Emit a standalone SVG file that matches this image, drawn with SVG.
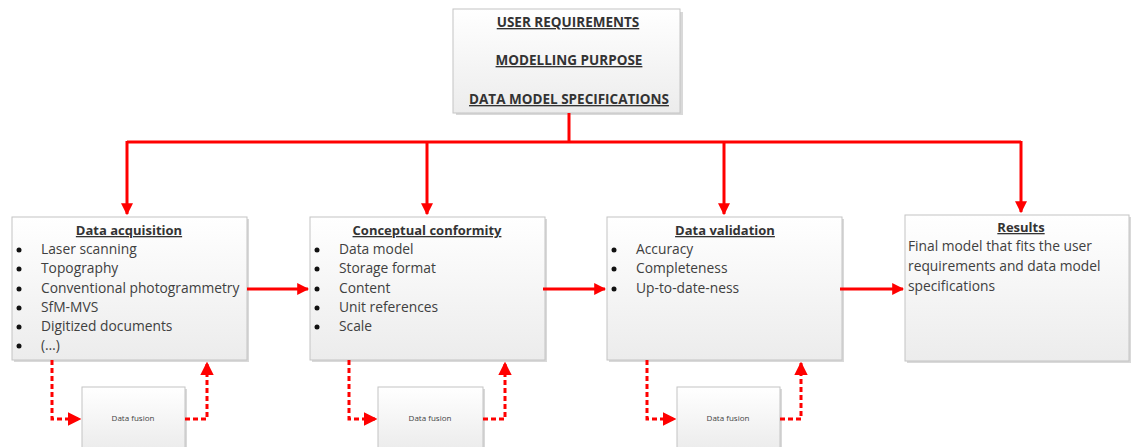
<svg xmlns="http://www.w3.org/2000/svg" width="1131" height="447" viewBox="0 0 1131 447">
<defs>
<linearGradient id="g" x1="0" y1="0" x2="0" y2="1"><stop offset="0" stop-color="#ffffff"/><stop offset="1" stop-color="#ececec"/></linearGradient>
<marker id="ah" viewBox="0 0 10 10" refX="9" refY="5" markerWidth="4" markerHeight="4" orient="auto" markerUnits="strokeWidth"><path d="M0,0 L10,5 L0,10 z" fill="#ff0000"/></marker>
<marker id="ahd" viewBox="0 0 10 10" refX="9" refY="5" markerWidth="4.5" markerHeight="4.5" orient="auto" markerUnits="strokeWidth"><path d="M0,0 L10,5 L0,10 z" fill="#ff0000"/></marker>
</defs>
<style>
.box{fill:url(#g);stroke:#c4c4c4;stroke-width:1}
.sh{fill:#d9d9d9}
.t{font-family:"Open Sans","Liberation Sans",sans-serif;font-size:13.8px;fill:#404040}
.h{font-family:"Open Sans","Liberation Sans",sans-serif;font-size:13px;font-weight:bold;fill:#333;text-decoration:underline;text-anchor:middle}
.top{font-family:"Open Sans","Liberation Sans",sans-serif;font-size:13.5px;font-weight:bold;fill:#333;text-decoration:underline;text-anchor:middle}
.b{fill:#111}
.fs{font-family:"Open Sans","Liberation Sans",sans-serif;font-size:8px;fill:#444;text-anchor:middle}
.r{fill:none;stroke:#ff0000;stroke-width:3}
.rd{fill:none;stroke:#ff0000;stroke-width:3;stroke-dasharray:5,3}
</style>
<rect width="1131" height="447" fill="#ffffff"/>

<g id="top">
<rect class="sh" x="456" y="12" width="227" height="103"/>
<rect class="box" x="453" y="9" width="227" height="104"/>
<text class="top" x="568" y="27">USER REQUIREMENTS</text>
<text class="top" x="569" y="65">MODELLING PURPOSE</text>
<text class="top" x="569" y="104">DATA MODEL SPECIFICATIONS</text>
</g>

<g id="acq">
<rect class="sh" x="14" y="219" width="235" height="143"/>
<rect class="box" x="12" y="217" width="235" height="143"/>
<text class="h" x="129" y="235">Data acquisition</text>
<g class="b"><circle cx="19" cy="250" r="2.5"/><circle cx="19" cy="269" r="2.5"/><circle cx="19" cy="289" r="2.5"/><circle cx="19" cy="308" r="2.5"/><circle cx="19" cy="327" r="2.5"/><circle cx="19" cy="346" r="2.5"/></g>
<text class="t" x="41" y="254">Laser scanning</text>
<text class="t" x="41" y="273">Topography</text>
<text class="t" x="41" y="293">Conventional photogrammetry</text>
<text class="t" x="41" y="312">SfM-MVS</text>
<text class="t" x="41" y="331">Digitized documents</text>
<text class="t" x="41" y="350">(…)</text>
</g>

<g id="conf">
<rect class="sh" x="312" y="219" width="235" height="143"/>
<rect class="box" x="310" y="217" width="235" height="143"/>
<text class="h" x="427" y="235">Conceptual conformity</text>
<g class="b"><circle cx="317" cy="250" r="2.5"/><circle cx="317" cy="269" r="2.5"/><circle cx="317" cy="289" r="2.5"/><circle cx="317" cy="308" r="2.5"/><circle cx="317" cy="327" r="2.5"/></g>
<text class="t" x="339" y="254">Data model</text>
<text class="t" x="339" y="273">Storage format</text>
<text class="t" x="339" y="293">Content</text>
<text class="t" x="339" y="312">Unit references</text>
<text class="t" x="339" y="331">Scale</text>
</g>

<g id="val">
<rect class="sh" x="609" y="219" width="235" height="143"/>
<rect class="box" x="607" y="217" width="235" height="143"/>
<text class="h" x="725" y="235">Data validation</text>
<g class="b"><circle cx="614" cy="250" r="2.5"/><circle cx="614" cy="269" r="2.5"/><circle cx="614" cy="289" r="2.5"/></g>
<text class="t" x="636" y="254">Accuracy</text>
<text class="t" x="636" y="273">Completeness</text>
<text class="t" x="636" y="293">Up-to-date-ness</text>
</g>

<g id="res">
<rect class="sh" x="907" y="217" width="224" height="146"/>
<rect class="box" x="905" y="215" width="224" height="146"/>
<text class="h" x="1021" y="232">Results</text>
<text class="t" x="908" y="251">Final model that fits the user</text>
<text class="t" x="908" y="271">requirements and data model</text>
<text class="t" x="908" y="291">specifications</text>
</g>

<g id="fusion1">
<rect class="sh" x="84" y="389" width="103" height="60"/>
<rect class="box" x="82" y="387" width="103" height="62"/>
<text class="fs" x="133" y="421">Data fusion</text>
</g>
<g id="fusion2">
<rect class="sh" x="380" y="389" width="105" height="60"/>
<rect class="box" x="378" y="387" width="105" height="62"/>
<text class="fs" x="430" y="421">Data fusion</text>
</g>
<g id="fusion3">
<rect class="sh" x="679" y="389" width="103" height="60"/>
<rect class="box" x="677" y="387" width="103" height="62"/>
<text class="fs" x="728" y="421">Data fusion</text>
</g>

<g id="connectors">
<path class="r" d="M569,113 V142"/>
<path class="r" d="M127,142 H1021"/>
<path class="r" d="M127,141 V214" marker-end="url(#ah)"/>
<path class="r" d="M427,141 V214" marker-end="url(#ah)"/>
<path class="r" d="M724,141 V214" marker-end="url(#ah)"/>
<path class="r" d="M1021,141 V212" marker-end="url(#ah)"/>
<path class="r" d="M247,289 H308" marker-end="url(#ah)"/>
<path class="r" d="M543,289 H605" marker-end="url(#ah)"/>
<path class="r" d="M840,289 H903" marker-end="url(#ah)"/>
<path class="rd" d="M52,360 V419 H80" marker-end="url(#ahd)"/>
<path class="rd" d="M185,419 H207 V363" marker-end="url(#ahd)"/>
<path class="rd" d="M349,360 V419 H376" marker-end="url(#ahd)"/>
<path class="rd" d="M483,419 H505 V363" marker-end="url(#ahd)"/>
<path class="rd" d="M647,360 V419 H675" marker-end="url(#ahd)"/>
<path class="rd" d="M780,419 H801 V363" marker-end="url(#ahd)"/>
</g>
</svg>
